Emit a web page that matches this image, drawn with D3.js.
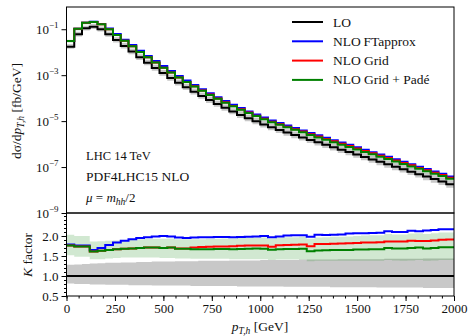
<!DOCTYPE html>
<html>
<head>
<meta charset="utf-8">
<script src="https://cdn.jsdelivr.net/npm/d3@7"></script>
<style>
body { margin: 0; background: #fff; }
text { font-family: "Liberation Serif", "DejaVu Serif", serif; font-weight: normal; fill: #111; }
</style>
</head>
<body>
<div id="chart"></div>
<script>
// bins of 40 GeV from 0 to 2000
var binEdges = d3.range(0, 2001, 40);

// LO distribution [fb/GeV] per bin
var loValues = [1.74e-2, 6.0e-2, 1.10e-1, 1.29e-1, 1.00e-1, 6.0e-2, 3.4e-2, 1.86e-2, 1.07e-2, 6.0e-3,
  3.5e-3, 2.07e-3, 1.25e-3, 7.6e-4, 4.7e-4, 2.99e-4, 1.91e-4, 1.25e-4, 8.3e-5, 5.6e-5,
  3.8e-5, 2.64e-5, 1.87e-5, 1.34e-5, 9.8e-6, 7.2e-6, 5.4e-6, 4.15e-6, 3.2e-6, 2.49e-6,
  1.95e-6, 1.52e-6, 1.19e-6, 9.3e-7, 7.3e-7, 5.7e-7, 4.5e-7, 3.5e-7, 2.75e-7, 2.15e-7,
  1.69e-7, 1.32e-7, 1.03e-7, 8.1e-8, 6.3e-8, 4.9e-8, 3.85e-8, 3.0e-8, 2.35e-8, 1.8e-8];

// K factors (ratio to LO)
var kFTapprox = [1.79, 1.76, 1.76, 1.65, 1.70, 1.775, 1.84, 1.88, 1.92, 1.95,
  1.97, 1.99, 2.0, 1.99, 1.96, 1.95, 1.96, 1.97, 1.97, 1.975,
  1.975, 1.97, 1.975, 1.98, 1.99, 2.0, 1.97, 1.99, 2.01, 2.02,
  2.02, 1.98, 2.03, 2.025, 2.03, 2.04, 2.06, 2.07, 2.07, 2.075,
  2.08, 2.12, 2.10, 2.10, 2.13, 2.12, 2.14, 2.15, 2.17, 2.17];
var kGrid = [1.76, 1.74, 1.74, 1.61, 1.63, 1.65, 1.67, 1.68, 1.69, 1.70,
  1.71, 1.71, 1.70, 1.71, 1.685, 1.69, 1.71, 1.725, 1.73, 1.735,
  1.74, 1.745, 1.755, 1.76, 1.765, 1.765, 1.73, 1.77, 1.775, 1.78,
  1.79, 1.745, 1.80, 1.80, 1.805, 1.81, 1.82, 1.825, 1.835, 1.84,
  1.845, 1.865, 1.86, 1.865, 1.88, 1.875, 1.875, 1.89, 1.905, 1.91];
var kPade = [1.76, 1.74, 1.74, 1.61, 1.63, 1.65, 1.67, 1.68, 1.69, 1.70,
  1.71, 1.71, 1.70, 1.71, 1.68, 1.68, 1.67, 1.67, 1.67, 1.675,
  1.675, 1.67, 1.675, 1.68, 1.685, 1.68, 1.655, 1.67, 1.675, 1.675,
  1.68, 1.62, 1.64, 1.645, 1.65, 1.65, 1.65, 1.66, 1.665, 1.67,
  1.67, 1.70, 1.69, 1.685, 1.70, 1.71, 1.69, 1.70, 1.72, 1.72];

// uncertainty bands (ratio to LO)
var loBandLow = [0.81, 0.80, 0.80, 0.79, 0.79, 0.78, 0.78, 0.78, 0.77, 0.77,
  0.77, 0.76, 0.76, 0.76, 0.76, 0.76, 0.75, 0.75, 0.75, 0.75,
  0.75, 0.75, 0.74, 0.74, 0.74, 0.74, 0.74, 0.74, 0.73, 0.73,
  0.73, 0.73, 0.73, 0.73, 0.72, 0.72, 0.72, 0.72, 0.72, 0.72,
  0.71, 0.71, 0.71, 0.71, 0.71, 0.71, 0.70, 0.70, 0.70, 0.70];
var loBandHigh = [1.28, 1.29, 1.30, 1.31, 1.32, 1.33, 1.33, 1.34, 1.34, 1.35,
  1.35, 1.36, 1.36, 1.36, 1.37, 1.37, 1.37, 1.38, 1.38, 1.38,
  1.38, 1.39, 1.39, 1.39, 1.39, 1.40, 1.40, 1.40, 1.40, 1.40,
  1.41, 1.41, 1.41, 1.41, 1.41, 1.42, 1.42, 1.42, 1.42, 1.42,
  1.42, 1.43, 1.43, 1.43, 1.43, 1.43, 1.44, 1.44, 1.44, 1.44];
var padeBandLow = [1.52, 1.48, 1.48, 1.42, 1.42, 1.44, 1.45, 1.46, 1.46, 1.46,
  1.46, 1.46, 1.45, 1.45, 1.44, 1.44, 1.43, 1.43, 1.43, 1.43,
  1.43, 1.42, 1.42, 1.42, 1.42, 1.42, 1.40, 1.41, 1.41, 1.41,
  1.41, 1.37, 1.38, 1.38, 1.38, 1.38, 1.38, 1.38, 1.38, 1.38,
  1.38, 1.40, 1.39, 1.38, 1.39, 1.40, 1.38, 1.39, 1.40, 1.40];
var padeBandHigh = [2.03, 2.0, 2.0, 1.86, 1.87, 1.88, 1.89, 1.90, 1.91, 1.92,
  1.93, 1.93, 1.93, 1.94, 1.92, 1.92, 1.92, 1.92, 1.93, 1.93,
  1.94, 1.94, 1.95, 1.95, 1.96, 1.96, 1.94, 1.96, 1.97, 1.97,
  1.98, 1.93, 1.96, 1.97, 1.98, 1.98, 1.99, 2.0, 2.01, 2.02,
  2.02, 2.05, 2.04, 2.04, 2.06, 2.07, 2.05, 2.07, 2.09, 2.09];

var xTicks = [0, 250, 500, 750, 1000, 1250, 1500, 1750, 2000];
var mainTicks = [-1, -3, -5, -7, -9];
var ratioTicks = [0.5, 1.0, 1.5, 2.0];

var width = 469, height = 336;
var plotLeft = 66.5, plotRight = 454, plotTop = 7, plotMid = 213, plotBottom = 296;

var svg = d3.select("#chart").append("svg")
    .attr("width", width)
    .attr("height", height);

var x = d3.scaleLinear().domain([0, 2000]).range([plotLeft, plotRight]);
var yMain = d3.scaleLog().domain([1e-9, 0.93]).range([plotMid, plotTop]);
var yRatio = d3.scaleLinear().domain([0.5, 2.575]).range([plotBottom, plotMid]);

svg.append("clipPath").attr("id", "clipMain").append("rect")
    .attr("x", plotLeft).attr("y", plotTop)
    .attr("width", plotRight - plotLeft).attr("height", plotMid - plotTop);
svg.append("clipPath").attr("id", "clipRatio").append("rect")
    .attr("x", plotLeft).attr("y", plotMid)
    .attr("width", plotRight - plotLeft).attr("height", plotBottom - plotMid);

// step points, last value repeated at the final edge
function steps(vals) {
    var pts = vals.map(function(v, i) { return [binEdges[i], v]; });
    pts.push([binEdges[vals.length], vals[vals.length - 1]]);
    return pts;
}
function stepBand(lo, hi) {
    var pts = lo.map(function(v, i) { return [binEdges[i], v, hi[i]]; });
    pts.push([binEdges[lo.length], lo[lo.length - 1], hi[hi.length - 1]]);
    return pts;
}
function times(a, b) { return a.map(function(v, i) { return v * b[i]; }); }

var series = [
    { name: "LO", k: loValues.map(function() { return 1; }), color: "#000000" },
    { name: "NLO\u2009FTapprox", k: kFTapprox, color: "#0000ff" },
    { name: "NLO Grid", k: kGrid, color: "#ff0000" },
    { name: "NLO Grid + Padé", k: kPade, color: "#008000" }
];

// ---- main panel ----
var gMain = svg.append("g").attr("clip-path", "url(#clipMain)");
var areaMain = d3.area().curve(d3.curveStepAfter)
    .x(function(d) { return x(d[0]); })
    .y0(function(d) { return yMain(d[1]); })
    .y1(function(d) { return yMain(d[2]); });
gMain.append("path")
    .attr("d", areaMain(stepBand(times(loValues, loBandLow), times(loValues, loBandHigh))))
    .attr("fill", "#c8c8c8");
gMain.append("path")
    .attr("d", areaMain(stepBand(times(loValues, padeBandLow), times(loValues, padeBandHigh))))
    .attr("fill", "#008000").attr("fill-opacity", 0.18);

var lineMain = d3.line().curve(d3.curveStepAfter)
    .x(function(d) { return x(d[0]); })
    .y(function(d) { return yMain(d[1]); });
series.forEach(function(s) {
    gMain.append("path")
        .attr("d", lineMain(steps(times(loValues, s.k))))
        .attr("fill", "none")
        .attr("stroke", s.color)
        .attr("stroke-width", 2);
});

// ---- ratio panel ----
var gRatio = svg.append("g").attr("clip-path", "url(#clipRatio)");
var areaRatio = d3.area().curve(d3.curveStepAfter)
    .x(function(d) { return x(d[0]); })
    .y0(function(d) { return yRatio(d[1]); })
    .y1(function(d) { return yRatio(d[2]); });
gRatio.append("path")
    .attr("d", areaRatio(stepBand(loBandLow, loBandHigh)))
    .attr("fill", "#c8c8c8");
gRatio.append("path")
    .attr("d", areaRatio(stepBand(padeBandLow, padeBandHigh)))
    .attr("fill", "#008000").attr("fill-opacity", 0.18);

var lineRatio = d3.line().curve(d3.curveStepAfter)
    .x(function(d) { return x(d[0]); })
    .y(function(d) { return yRatio(d[1]); });
series.forEach(function(s) {
    gRatio.append("path")
        .attr("d", lineRatio(steps(s.k)))
        .attr("fill", "none")
        .attr("stroke", s.color)
        .attr("stroke-width", 2);
});

// ---- axes ----
var yMainAxis = svg.append("g")
    .attr("transform", "translate(" + plotLeft + ",0)")
    .call(d3.axisLeft(yMain)
        .tickValues(mainTicks.map(function(e) { return Math.pow(10, e); }))
        .tickSize(5).tickFormat(""));
yMainAxis.select(".domain").remove();
mainTicks.forEach(function(e) {
    var t = svg.append("text")
        .attr("x", plotLeft - 8)
        .attr("y", yMain(Math.pow(10, e)) + 4.5)
        .attr("text-anchor", "end")
        .style("font-size", "13px");
    t.append("tspan").text("10");
    t.append("tspan").attr("dy", -6).style("font-size", "9px").text("\u2212" + Math.abs(e));
});

var yRatioAxis = svg.append("g")
    .attr("transform", "translate(" + plotLeft + ",0)")
    .call(d3.axisLeft(yRatio).tickValues(ratioTicks).tickSize(5).tickPadding(3)
        .tickFormat(d3.format(".1f")));
yRatioAxis.select(".domain").remove();
yRatioAxis.selectAll("text").style("font-size", "13px").style("font-family", "Liberation Serif");
var yRatioMinor = svg.append("g")
    .attr("transform", "translate(" + plotLeft + ",0)")
    .call(d3.axisLeft(yRatio).tickValues(d3.range(0.5, 2.58, 0.1)).tickSize(2.5).tickFormat(""));
yRatioMinor.select(".domain").remove();

var xAxis = svg.append("g")
    .attr("transform", "translate(0," + plotBottom + ")")
    .call(d3.axisBottom(x).tickValues(xTicks).tickSize(5).tickPadding(3)
        .tickFormat(d3.format("d")));
xAxis.select(".domain").remove();
xAxis.selectAll("text").style("font-size", "13px").style("font-family", "Liberation Serif");
var xMinor = svg.append("g")
    .attr("transform", "translate(0," + plotBottom + ")")
    .call(d3.axisBottom(x).tickValues(d3.range(0, 2001, 62.5)).tickSize(2.5).tickFormat(""));
xMinor.select(".domain").remove();

// frames
svg.append("rect").attr("x", plotLeft).attr("y", plotTop)
    .attr("width", plotRight - plotLeft).attr("height", plotMid - plotTop)
    .attr("fill", "none").attr("stroke", "#000").attr("stroke-width", 1);
svg.append("rect").attr("x", plotLeft).attr("y", plotMid)
    .attr("width", plotRight - plotLeft).attr("height", plotBottom - plotMid)
    .attr("fill", "none").attr("stroke", "#000").attr("stroke-width", 1);

// ---- labels ----
var yLab = svg.append("text")
    .attr("transform", "translate(21,111)rotate(-90)")
    .attr("text-anchor", "middle")
    .style("font-size", "13.5px");
yLab.append("tspan").text("d\u03c3/d");
yLab.append("tspan").style("font-style", "italic").text("p");
yLab.append("tspan").attr("dy", 3).style("font-size", "9.5px").style("font-style", "italic").text("T,h");
yLab.append("tspan").attr("dy", -3).text(" [fb/GeV]");

var kLab = svg.append("text")
    .attr("transform", "translate(32,255)rotate(-90)")
    .attr("text-anchor", "middle")
    .style("font-size", "13.5px");
kLab.append("tspan").style("font-style", "italic").text("K");
kLab.append("tspan").text(" factor");

var xLab = svg.append("text")
    .attr("x", 260).attr("y", 331)
    .attr("text-anchor", "middle")
    .style("font-size", "13.5px");
xLab.append("tspan").style("font-style", "italic").text("p");
xLab.append("tspan").attr("dy", 3).style("font-size", "9.5px").style("font-style", "italic").text("T,h");
xLab.append("tspan").attr("dy", -3).text(" [GeV]");

// annotations
svg.append("text").attr("x", 86).attr("y", 160).style("font-size", "12.5px").text("LHC 14 TeV");
svg.append("text").attr("x", 86).attr("y", 181).style("font-size", "13.5px").text("PDF4LHC15 NLO");
var mu = svg.append("text").attr("x", 86).attr("y", 202).style("font-size", "13px");
mu.append("tspan").style("font-style", "italic").text("\u03bc");
mu.append("tspan").text(" = ");
mu.append("tspan").style("font-style", "italic").text("m");
mu.append("tspan").attr("dy", 3).style("font-size", "9.5px").style("font-style", "italic").text("hh");
mu.append("tspan").attr("dy", -3).text("/2");

// legend
var legend = svg.append("g");
series.forEach(function(s, i) {
    var ly = 22 + i * 19.3;
    legend.append("line")
        .attr("x1", 292).attr("x2", 323)
        .attr("y1", ly).attr("y2", ly)
        .attr("stroke", s.color).attr("stroke-width", 2);
    legend.append("text")
        .attr("x", 333).attr("y", ly + 4.5)
        .style("font-size", "13.5px")
        .text(s.name);
});
</script>
</body>
</html>
